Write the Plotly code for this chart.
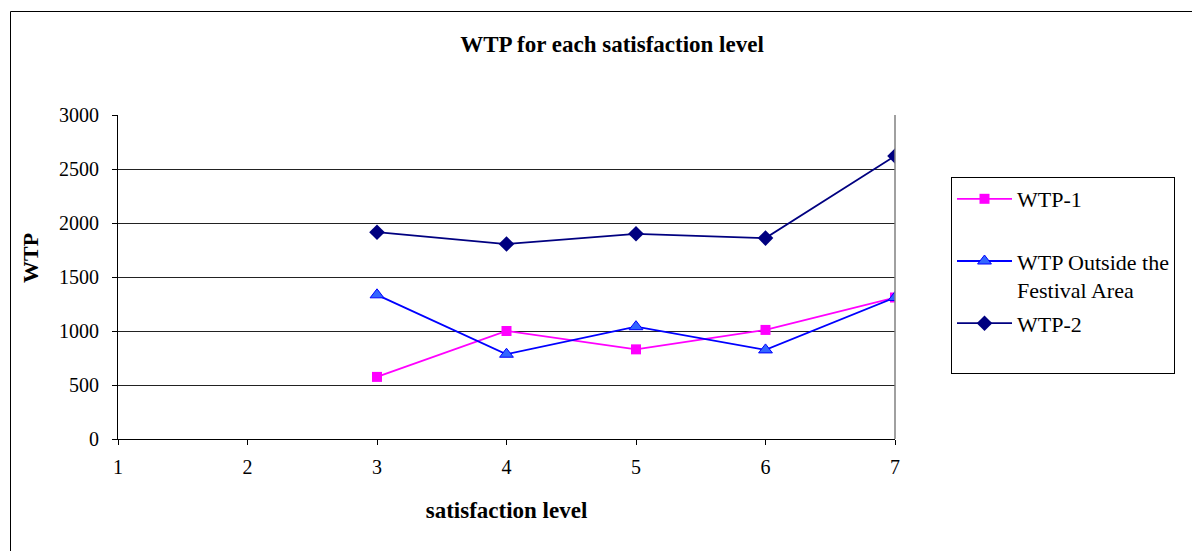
import plotly.graph_objects as go

levels = [3, 4, 5, 6, 7]
wtp1 = [575, 1000, 830, 1010, 1310]
wtp_outside = [1335, 785, 1040, 825, 1310]
wtp2 = [1915, 1805, 1900, 1860, 2620]
x_ticks = [1, 2, 3, 4, 5, 6, 7]
y_ticks = [0, 500, 1000, 1500, 2000, 2500, 3000]

FONT = "Liberation Serif"
OFF = 8  # page body margin

fig = go.Figure()
fig.add_trace(go.Scatter(
    x=levels, y=wtp1, name="WTP-1<br> ", mode="lines+markers", legendgroup="a",
    line=dict(color="#FF00FF", width=1.8),
    marker=dict(symbol="square", size=10, color="#FF00FF"),
))
fig.add_trace(go.Scatter(
    x=levels, y=wtp_outside, name="WTP Outside the<br>Festival Area", mode="lines+markers",
    legendgroup="b",
    line=dict(color="#0000FF", width=1.8),
    marker=dict(symbol="triangle-up", size=12, color="#3366FF", line=dict(color="#0000FF", width=1)),
))
fig.add_trace(go.Scatter(
    x=levels, y=wtp2, name="WTP-2<br> ", mode="lines+markers", legendgroup="c",
    line=dict(color="#000080", width=1.8),
    marker=dict(symbol="diamond", size=12, color="#000080"),
))

L, R, T, B = 118 - OFF, 895 - OFF, 115 - OFF, 439 - OFF
W, H = 1200, 551

def px(xs):
    return (xs - OFF - L) / (R - L)

def py(ys):
    return (B - (ys - OFF)) / (B - T)

fig.update_layout(
    width=W, height=H,
    margin=dict(l=L, r=W - R, t=T, b=H - B),
    paper_bgcolor="white", plot_bgcolor="white",
    font=dict(family=FONT, size=20, color="black"),
    showlegend=True,
    title=dict(text="<b>WTP for each satisfaction level</b>", xref="paper", x=px(612),
               xanchor="center", yref="container",
               y=1 - (44 - OFF) / H, yanchor="middle", font=dict(size=23, family=FONT)),
    legend=dict(
        x=px(951), y=py(177), xanchor="left", yanchor="top",
        bordercolor="black", borderwidth=1, bgcolor="white",
        font=dict(size=22, family=FONT), tracegroupgap=2,
        valign="top", itemwidth=55,
    ),
    xaxis=dict(
        range=[1, 7], tickvals=x_ticks, ticktext=[str(v) for v in x_ticks],
        showgrid=False, zeroline=False,
        showline=True, linecolor="black", linewidth=1,
        ticks="outside", ticklen=5, tickcolor="black",
        tickfont=dict(size=20, family=FONT), ticklabelstandoff=5,
        title=dict(text="<b>satisfaction level</b>", font=dict(size=23, family=FONT), standoff=24),
    ),
    yaxis=dict(
        range=[0, 3000], tickvals=y_ticks, ticktext=[str(v) for v in y_ticks],
        showgrid=True, gridcolor="#222222", gridwidth=1, zeroline=False,
        showline=True, linecolor="black", linewidth=1,
        ticks="outside", ticklen=5, tickcolor="black",
        tickfont=dict(size=20, family=FONT), ticklabelstandoff=9,
    ),
    annotations=[dict(
        text="<b>WTP</b>", xref="paper", yref="paper", x=px(30), y=py(258),
        xanchor="center", yanchor="middle", textangle=-90, showarrow=False,
        font=dict(size=22, family=FONT),
    )],
)

# right border of plot area
fig.add_shape(type="line", xref="paper", yref="paper", x0=1, x1=1, y0=0, y1=1,
              line=dict(color="#808080", width=1.5))
# outer chart border
fig.add_shape(type="rect", xref="paper", yref="paper",
              x0=px(10.5), x1=px(1199.5), y0=py(580), y1=py(11.5),
              line=dict(color="black", width=1))

fig.write_html("out.html")
